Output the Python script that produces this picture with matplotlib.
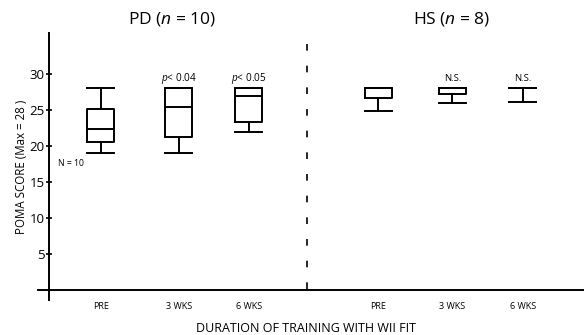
import matplotlib
matplotlib.use('Agg')
import matplotlib.pyplot as plt

plt.rcParams['font.family'] = ['Open Sans', 'DejaVu Sans']
plt.rcParams['mathtext.fontset'] = 'custom'
plt.rcParams['mathtext.rm'] = 'Open Sans'
plt.rcParams['mathtext.it'] = 'Open Sans:italic'

# data (POMA score)
labels = ['PRE', '3 WKS', '6 WKS', 'PRE', '3 WKS', '6 WKS']
whis_lo = [19.0, 19.0, 22.0, 24.8, 26.0, 26.1]
q1 = [20.5, 21.2, 23.3, 26.6, 27.2, 28.0]
med = [22.3, 25.4, 27.0, 28.0, 28.0, 28.0]
q3 = [25.2, 28.0, 28.0, 28.0, 28.0, 28.0]
whis_hi = [28.0, 28.0, 28.0, 28.0, 28.0, 28.0]
notes = ['', '$p$< 0.04', '$p$< 0.05', '', 'N.S.', 'N.S.']
groups = ['PD ($n$ = 10)', 'HS ($n$ = 8)']
yticks = [5, 10, 15, 20, 25, 30]

# layout
positions = [1, 2.05, 3, 4.75, 5.75, 6.7]
divider = 3.78
bw = 0.365

fig = plt.figure(figsize=(5.84, 3.35), dpi=100)
ax = fig.add_axes([38 / 584, 35 / 335, 546 / 584, 267 / 335])

stats = []
for i in range(len(labels)):
    stats.append(dict(whislo=whis_lo[i], q1=q1[i], med=med[i], q3=q3[i],
                      whishi=whis_hi[i], fliers=[]))

lp = dict(color='black', linewidth=1.4)
ax.bxp(stats, positions=positions, widths=bw, capwidths=bw,
       boxprops=lp, whiskerprops=lp, capprops=lp, medianprops=lp,
       showfliers=False, manage_ticks=False)

ax.set_xlim(0.149, 7.527)
ax.set_ylim(-1.4, 35.7)

# axes lines
for s in ['top', 'right']:
    ax.spines[s].set_visible(False)
ax.spines['left'].set_position(('data', 0.297))
ax.spines['left'].set_linewidth(1.4)
ax.spines['bottom'].set_position(('data', 0))
ax.spines['bottom'].set_linewidth(1.4)

ax.set_yticks(yticks)
ax.set_yticklabels([str(v) for v in yticks], fontsize=9.5)
ax.tick_params(axis='y', direction='inout', length=4, width=1.2, pad=1)
ax.set_xticks(positions)
ax.set_xticklabels(labels, fontsize=6.5)
ax.tick_params(axis='x', length=0, pad=9)

ax.axvline(divider, ymin=0.04, ymax=1.0, color='black', linewidth=1.2,
           linestyle=(0, (4, 9)), clip_on=False)

for i in range(len(labels)):
    if notes[i]:
        ax.text(positions[i], 29.4, notes[i], ha='center', va='center',
                fontsize=7.2 if notes[i].startswith('$') else 6.8)
ax.text(0.60, 17.5, 'N = 10', ha='center', va='center', fontsize=6.2)

ax.text((positions[0] + positions[2]) / 2 - 0.04, 37.6, groups[0], ha='center',
        va='center', fontsize=12.5, clip_on=False)
ax.text((positions[3] + positions[5]) / 2 + 0.02, 37.6, groups[1], ha='center',
        va='center', fontsize=12.5, clip_on=False)

ax.set_ylabel('POMA SCORE (Max = 28 )', fontsize=8.3, labelpad=1)
fig.text(306 / 584, 7 / 335, 'DURATION OF TRAINING WITH WII FIT', ha='center',
         va='center', fontsize=9)

fig.savefig('out.png', dpi=100)
